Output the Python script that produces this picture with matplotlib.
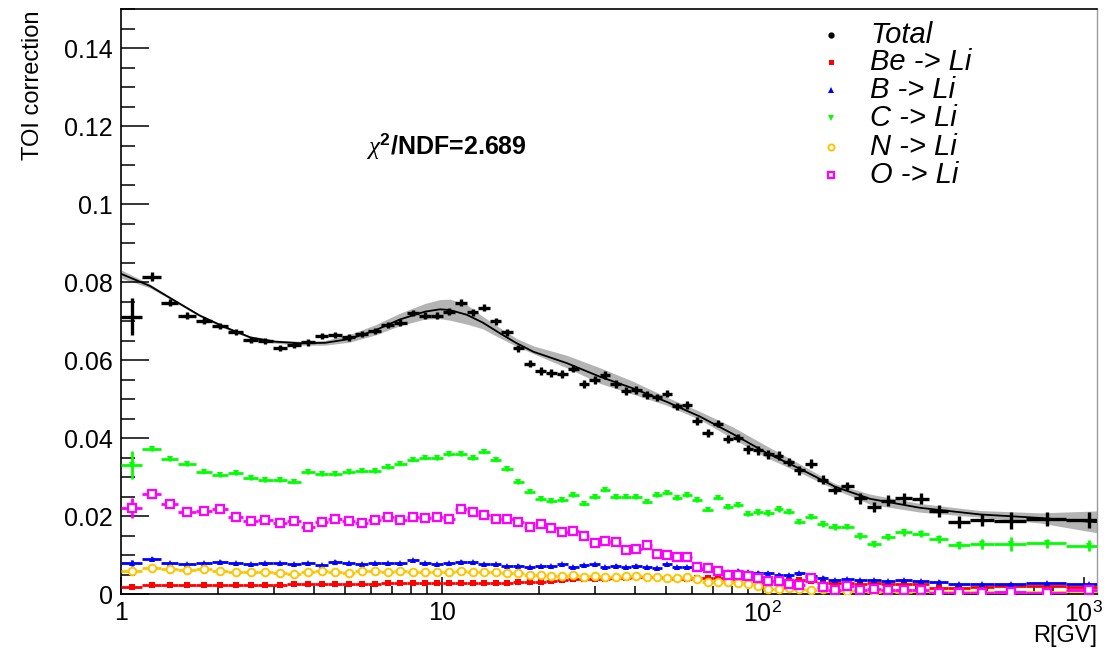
import numpy as np
import matplotlib
matplotlib.use("Agg")
import matplotlib.pyplot as plt
from matplotlib.ticker import FixedLocator, FuncFormatter, MultipleLocator, NullFormatter

plt.rcParams["font.family"] = ["Liberation Sans", "DejaVu Sans"]
plt.rcParams["mathtext.fontset"] = "custom"
plt.rcParams["mathtext.rm"] = "Liberation Sans"
plt.rcParams["mathtext.it"] = "Liberation Serif:italic"
plt.rcParams["mathtext.bf"] = "Liberation Sans:bold"

# Rigidity bin edges [GV]
rig_edges = [1.00, 1.16, 1.33, 1.51, 1.71, 1.92, 2.15, 2.40, 2.67, 2.97, 3.29, 3.64,
             4.02, 4.43, 4.88, 5.37, 5.90, 6.47, 7.09, 7.76, 8.48, 9.26, 10.1, 11.0,
             12.0, 13.0, 14.1, 15.3, 16.6, 18.0, 19.5, 21.1, 22.8, 24.7, 26.7, 28.8,
             31.1, 33.5, 36.1, 38.9, 41.9, 45.1, 48.5, 52.2, 56.1, 60.3, 64.8, 69.7,
             74.9, 80.5, 86.5, 93.0, 100, 108, 116, 125, 135, 147, 160, 175, 192, 211,
             233, 259, 291, 330, 379, 441, 525, 660, 880, 1200]

total = [0.0711, 0.0814, 0.0747, 0.0714, 0.0701, 0.0688, 0.0672, 0.0651, 0.0648, 0.0631,
         0.0638, 0.0645, 0.0662, 0.0664, 0.0658, 0.0667, 0.0675, 0.0690, 0.0696, 0.0721,
         0.0713, 0.0714, 0.0724, 0.0747, 0.0723, 0.0734, 0.0699, 0.0671, 0.0630, 0.0590,
         0.0572, 0.0567, 0.0564, 0.0578, 0.0538, 0.0548, 0.0561, 0.0538, 0.0521, 0.0523,
         0.0511, 0.0504, 0.0514, 0.0481, 0.0484, 0.0443, 0.0413, 0.0437, 0.0398, 0.0401,
         0.0371, 0.0368, 0.0358, 0.0355, 0.0338, 0.0317, 0.0334, 0.0293, 0.0267, 0.0277,
         0.0245, 0.0222, 0.0239, 0.0246, 0.0244, 0.0212, 0.0185, 0.0190, 0.0188, 0.0192,
         0.0190]
total_err = [0.0048, 0.0012, 0.0009, 0.0009, 0.0008, 0.0008, 0.0008, 0.0008, 0.0008, 0.0008,
             0.0008, 0.0008, 0.0008, 0.0008, 0.0008, 0.0008, 0.0008, 0.0008, 0.0008, 0.0008,
             0.0009, 0.0009, 0.0009, 0.0009, 0.0009, 0.0009, 0.0009, 0.0009, 0.0009, 0.0009,
             0.0010, 0.0010, 0.0010, 0.0010, 0.0010, 0.0010, 0.0010, 0.0010, 0.0010, 0.0010,
             0.0010, 0.0010, 0.0010, 0.0010, 0.0010, 0.0010, 0.0010, 0.0010, 0.0010, 0.0010,
             0.0011, 0.0011, 0.0011, 0.0011, 0.0011, 0.0011, 0.0011, 0.0011, 0.0011, 0.0011,
             0.0013, 0.0013, 0.0014, 0.0014, 0.0014, 0.0015, 0.0016, 0.0016, 0.0022, 0.0018,
             0.0020]

be_li = [0.0019, 0.0023, 0.0023, 0.0023, 0.0023, 0.0023, 0.0023, 0.0023, 0.0024, 0.0023,
         0.0025, 0.0025, 0.0025, 0.0025, 0.0026, 0.0026, 0.0026, 0.0027, 0.0027, 0.0027,
         0.0028, 0.0029, 0.0029, 0.0027, 0.0027, 0.0027, 0.0027, 0.0029, 0.0030, 0.0032,
         0.0032, 0.0033, 0.0036, 0.0038, 0.0038, 0.0038, 0.0039, 0.0040, 0.0042, 0.0043,
         0.0044, 0.0043, 0.0040, 0.0038, 0.0038, 0.0040, 0.0042, 0.0040, 0.0036, 0.0038,
         0.0038, 0.0033, 0.0033, 0.0035, 0.0033, 0.0037, 0.0033, 0.0029, 0.0029, 0.0029,
         0.0026, 0.0027, 0.0026, 0.0026, 0.0026, 0.0016, 0.0016, 0.0018, 0.0020, 0.0020,
         0.0019]
be_li_err = [0.0003] + [0.0002] * 70

b_li = [0.0079, 0.0091, 0.0079, 0.0077, 0.0080, 0.0083, 0.0080, 0.0076, 0.0079, 0.0079,
        0.0076, 0.0080, 0.0075, 0.0083, 0.0079, 0.0076, 0.0079, 0.0080, 0.0080, 0.0087,
        0.0079, 0.0076, 0.0080, 0.0083, 0.0082, 0.0077, 0.0077, 0.0072, 0.0073, 0.0068,
        0.0072, 0.0072, 0.0077, 0.0070, 0.0074, 0.0077, 0.0070, 0.0073, 0.0070, 0.0073,
        0.0070, 0.0067, 0.0077, 0.0070, 0.0070, 0.0063, 0.0063, 0.0057, 0.0057, 0.0060,
        0.0057, 0.0055, 0.0053, 0.0050, 0.0048, 0.0053, 0.0046, 0.0042, 0.0036, 0.0038,
        0.0036, 0.0035, 0.0033, 0.0035, 0.0033, 0.0032, 0.0025, 0.0026, 0.0026, 0.0029,
        0.0026]
b_li_err = [0.0007] + [0.0003] * 70

c_li = [0.0331, 0.0371, 0.0345, 0.0333, 0.0314, 0.0304, 0.0309, 0.0297, 0.0292, 0.0292,
        0.0288, 0.0312, 0.0307, 0.0307, 0.0312, 0.0316, 0.0315, 0.0325, 0.0334, 0.0344,
        0.0350, 0.0348, 0.0359, 0.0358, 0.0348, 0.0365, 0.0344, 0.0320, 0.0287, 0.0262,
        0.0243, 0.0238, 0.0241, 0.0253, 0.0231, 0.0248, 0.0267, 0.0248, 0.0249, 0.0248,
        0.0237, 0.0254, 0.0260, 0.0245, 0.0253, 0.0241, 0.0216, 0.0247, 0.0222, 0.0227,
        0.0206, 0.0209, 0.0207, 0.0217, 0.0210, 0.0185, 0.0198, 0.0179, 0.0171, 0.0173,
        0.0149, 0.0129, 0.0147, 0.0158, 0.0155, 0.0141, 0.0125, 0.0128, 0.0128, 0.0130,
        0.0124]
c_li_err = ([0.0036] + [0.0004] * 49 + [0.0006] * 10 + [0.0008] * 5
            + [0.0010, 0.0010, 0.0012, 0.0019, 0.0012, 0.0015])

n_li = [0.0059, 0.0067, 0.0064, 0.0062, 0.0064, 0.0060, 0.0057, 0.0057, 0.0057, 0.0053,
        0.0051, 0.0056, 0.0060, 0.0057, 0.0053, 0.0060, 0.0060, 0.0056, 0.0060, 0.0057,
        0.0056, 0.0057, 0.0057, 0.0059, 0.0057, 0.0057, 0.0056, 0.0055, 0.0053, 0.0050,
        0.0049, 0.0046, 0.0046, 0.0049, 0.0044, 0.0046, 0.0044, 0.0044, 0.0046, 0.0046,
        0.0043, 0.0044, 0.0041, 0.0041, 0.0043, 0.0038, 0.0032, 0.0030, 0.0030, 0.0027,
        0.0026, 0.0021, 0.0014, 0.0012, 0.0016, 0.0012, 0.0009, 0.0012, 0.0008, 0.0008,
        0.0008, 0.0006, 0.0008, 0.0006, 0.0008, 0.0005, 0.0005, 0.0004, 0.0006, 0.0005,
        0.0008]
n_li_err = [0.0005] + [0.0003] * 70

o_li = [0.0220, 0.0256, 0.0231, 0.0211, 0.0214, 0.0217, 0.0198, 0.0188, 0.0190, 0.0183,
        0.0187, 0.0173, 0.0185, 0.0193, 0.0187, 0.0183, 0.0190, 0.0197, 0.0191, 0.0198,
        0.0196, 0.0198, 0.0193, 0.0217, 0.0210, 0.0203, 0.0193, 0.0193, 0.0185, 0.0173,
        0.0179, 0.0170, 0.0160, 0.0162, 0.0149, 0.0132, 0.0136, 0.0133, 0.0113, 0.0116,
        0.0126, 0.0103, 0.0100, 0.0096, 0.0096, 0.0068, 0.0066, 0.0059, 0.0049, 0.0050,
        0.0046, 0.0042, 0.0033, 0.0033, 0.0025, 0.0023, 0.0040, 0.0019, 0.0009, 0.0020,
        0.0009, 0.0014, 0.0009, 0.0009, 0.0009, 0.0002, 0.0003, 0.0002, 0.0004, 0.0002,
        0.0010]
o_li_err = [0.0026] + [0.0003] * 60 + [0.0005] * 10

# Fitted total correction and its uncertainty band
fit_rig = [1.00, 1.23, 1.47, 1.76, 2.11, 2.53, 3.02, 3.61, 4.32, 5.17, 6.19, 7.40,
           8.86, 9.87, 10.6, 11.95, 13.4, 15.2, 17.1, 19.3, 24.5, 31.1, 39.5, 50.1,
           63.7, 80.8, 102.6, 130.6, 168, 216, 309, 475, 731, 1100]
fit_val = [0.0821, 0.0790, 0.0752, 0.0714, 0.0684, 0.0658, 0.0647, 0.0643, 0.0644, 0.0654,
           0.0676, 0.0704, 0.0724, 0.0730, 0.0728, 0.0716, 0.0696, 0.0668, 0.0643, 0.0621,
           0.0592, 0.0557, 0.0527, 0.0493, 0.0455, 0.0410, 0.0362, 0.0321, 0.0275, 0.0244,
           0.0221, 0.0204, 0.0195, 0.0184]
band_lo = [0.0810, 0.0785, 0.0749, 0.0711, 0.0681, 0.0655, 0.0643, 0.0638, 0.0638, 0.0646,
           0.0664, 0.0688, 0.0705, 0.0706, 0.0702, 0.0692, 0.0680, 0.0656, 0.0635, 0.0616,
           0.0580, 0.0540, 0.0512, 0.0484, 0.0447, 0.0398, 0.0350, 0.0311, 0.0268, 0.0230,
           0.0210, 0.0197, 0.0182, 0.0157]
band_hi = [0.0831, 0.0795, 0.0755, 0.0717, 0.0687, 0.0661, 0.0651, 0.0648, 0.0650, 0.0666,
           0.0690, 0.0720, 0.0745, 0.0755, 0.0756, 0.0742, 0.0712, 0.0682, 0.0655, 0.0636,
           0.0612, 0.0580, 0.0545, 0.0505, 0.0468, 0.0428, 0.0380, 0.0333, 0.0283, 0.0256,
           0.0232, 0.0214, 0.0208, 0.0213]

chi2_text = r"$\chi^{\mathbf{2}}$/NDF=2.689"
x_ticks = [1, 10, 100, 1000]
x_tick_labels = ["1", "10", r"$10^{2}$", r"$10^{3}$"]

series = [
    ("Be -> Li", be_li, be_li_err, dict(color="#ff0000", marker="s", ms=4.5, mfc="#ff0000", mew=0)),
    ("B -> Li", b_li, b_li_err, dict(color="#0000ff", marker="^", ms=5, mfc="#0000ff", mew=0)),
    ("C -> Li", c_li, c_li_err, dict(color="#00ff00", marker="v", ms=5, mfc="#00ff00", mew=0)),
    ("N -> Li", n_li, n_li_err, dict(color="#ffc400", marker="o", ms=5.5, mfc="white", mew=1.4)),
    ("O -> Li", o_li, o_li_err, dict(color="#ff00ff", marker="s", ms=5.5, mfc="white", mew=1.6)),
]

edges = np.array(rig_edges)
centers = 0.5 * (edges[:-1] + edges[1:])
xerr = [centers - edges[:-1], edges[1:] - centers]

fig = plt.figure(figsize=(11.04, 6.48), dpi=100)
ax = fig.add_axes([121 / 1104, 54 / 648, 976 / 1104, 585 / 648])

ax.fill_between(fit_rig, band_lo, band_hi, color="#b4b4b4", lw=0, zorder=1)
ax.plot(fit_rig, fit_val, color="black", lw=1.3, zorder=3)

ax.errorbar(centers, total, yerr=total_err, xerr=xerr, fmt="o", ms=2.5,
            color="black", elinewidth=2.4, capsize=0, zorder=4)
for i, (name, vals, errs, st) in enumerate(series):
    ax.errorbar(centers, vals, yerr=errs, xerr=xerr, fmt=st["marker"], ms=st["ms"],
                color=st["color"], mfc=st["mfc"], mec=st["color"], mew=st["mew"],
                elinewidth=2.0, capsize=0, zorder=5 + i)

ax.set_xscale("log")
ax.set_xlim(1, 1100)
ax.set_ylim(0, 0.15)

ax.xaxis.set_major_locator(FixedLocator(x_ticks))
ax.xaxis.set_major_formatter(FuncFormatter(lambda v, p: x_tick_labels[x_ticks.index(int(round(v)))]
                                           if int(round(v)) in x_ticks else ""))
minor = [m * 10 ** d for d in range(0, 4) for m in range(2, 10) if m * 10 ** d < 1100]
ax.xaxis.set_minor_locator(FixedLocator(minor))
ax.xaxis.set_minor_formatter(NullFormatter())

ax.yaxis.set_major_locator(MultipleLocator(0.02))
ax.yaxis.set_minor_locator(MultipleLocator(0.005))
ax.yaxis.set_major_formatter(FuncFormatter(lambda v, p: "%g" % round(v, 4)))

ax.tick_params(which="both", direction="in", top=False, right=False, width=1.1, labelsize=18)
ax.tick_params(axis="y", which="major", length=20, pad=6)
ax.tick_params(axis="y", which="minor", length=10)
ax.tick_params(axis="x", which="major", length=12, pad=5)
ax.tick_params(axis="x", which="minor", length=6)

for s in ["left", "bottom", "top"]:
    ax.spines[s].set_linewidth(1.2)
ax.spines["right"].set_color("#9a9a9a")
ax.spines["right"].set_linewidth(1.0)

fig.text(33 / 1104, 1 - 10 / 648, "TOI correction", rotation=90, ha="center", va="top", fontsize=17)
fig.text(1097 / 1104, 1 - 636 / 648, "R[GV]", ha="right", va="center", fontsize=17)

ax.text(0.251, 0.7658, chi2_text, transform=ax.transAxes, ha="left", va="center",
        fontsize=18, fontweight="bold")

# Legend entries
leg_rows = [0.9556, 0.9094, 0.8615, 0.8137, 0.7641, 0.7162]
ax.plot([0.7275], [leg_rows[0]], "o", ms=3.5, color="black", transform=ax.transAxes, clip_on=False)
ax.text(0.7674, leg_rows[0], "Total", transform=ax.transAxes, ha="left", va="center",
        fontsize=21, style="italic")
for (name, vals, errs, st), yr in zip(series, leg_rows[1:]):
    ax.plot([0.7275], [yr], st["marker"], ms=st["ms"] * 0.8, color=st["color"], mfc=st["mfc"],
            mec=st["color"], mew=st["mew"], transform=ax.transAxes, clip_on=False)
    ax.text(0.7674, yr, name, transform=ax.transAxes, ha="left", va="center",
            fontsize=21, style="italic")

fig.savefig("out.png", dpi=100)
